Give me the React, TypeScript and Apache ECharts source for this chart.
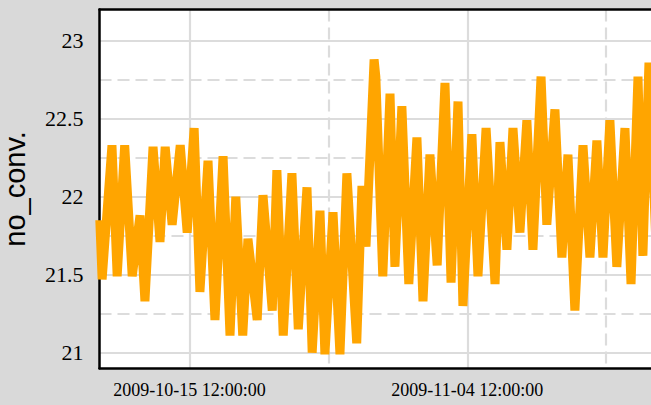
import React, { useEffect, useRef } from "react";
import * as echarts from "echarts";

const times: string[] = [
  "2009-10-09 01:00", "2009-10-09 05:00", "2009-10-09 22:00", "2009-10-10 07:00",
  "2009-10-10 20:00", "2009-10-11 09:00", "2009-10-11 22:30", "2009-10-12 07:00",
  "2009-10-12 21:00", "2009-10-13 09:00", "2009-10-13 18:00", "2009-10-14 06:00",
  "2009-10-14 20:00", "2009-10-15 08:00", "2009-10-15 20:00", "2009-10-16 06:00",
  "2009-10-16 20:00", "2009-10-17 08:00", "2009-10-17 22:00", "2009-10-18 10:00",
  "2009-10-18 20:00", "2009-10-19 08:00", "2009-10-19 17:00", "2009-10-20 09:00",
  "2009-10-20 19:00", "2009-10-21 11:00", "2009-10-21 19:00", "2009-10-22 06:00",
  "2009-10-22 21:00", "2009-10-23 08:00", "2009-10-23 23:00", "2009-10-24 08:00",
  "2009-10-24 21:30", "2009-10-25 06:00", "2009-10-25 20:00", "2009-10-26 08:00",
  "2009-10-26 20:00", "2009-10-27 13:00", "2009-10-27 22:00", "2009-10-28 05:00",
  "2009-10-28 19:00", "2009-10-28 22:00", "2009-10-29 10:00", "2009-10-29 22:30",
  "2009-10-30 07:00", "2009-10-30 19:00", "2009-10-31 07:00", "2009-10-31 21:00",
  "2009-11-01 07:30", "2009-11-01 19:30", "2009-11-02 08:00", "2009-11-02 21:30",
  "2009-11-03 08:00", "2009-11-03 20:00", "2009-11-04 04:30", "2009-11-04 20:00",
  "2009-11-05 06:30", "2009-11-05 20:30", "2009-11-06 12:00", "2009-11-06 20:30",
  "2009-11-07 08:30", "2009-11-07 19:00", "2009-11-08 07:00", "2009-11-08 19:00",
  "2009-11-09 05:30", "2009-11-09 19:30", "2009-11-10 05:30", "2009-11-10 19:30",
  "2009-11-11 07:30", "2009-11-11 18:00", "2009-11-12 06:00", "2009-11-12 20:00",
  "2009-11-13 08:00", "2009-11-13 20:00", "2009-11-14 06:30", "2009-11-14 18:30",
  "2009-11-15 06:30", "2009-11-15 20:30", "2009-11-16 07:00", "2009-11-16 19:00",
  "2009-11-17 03:30", "2009-11-17 14:00", "2009-11-18 02:00",
];

const values: number[] = [
  21.85, 21.47, 22.33, 21.49,
  22.33, 21.49, 21.88, 21.33,
  22.32, 21.71, 22.32, 21.82,
  22.33, 21.77, 22.44, 21.39,
  22.23, 21.21, 22.26, 21.11,
  22.0, 21.11, 21.73, 21.21,
  22.01, 21.27, 22.17, 21.11,
  22.15, 21.15, 22.06, 21.0,
  21.91, 20.99, 21.9, 20.99,
  22.15, 21.06, 22.07, 21.68,
  22.88, 22.77, 21.49, 22.66,
  21.55, 22.58, 21.44, 22.38,
  21.33, 22.27, 21.56, 22.73,
  21.45, 22.61, 21.3, 22.4,
  21.49, 22.44, 21.44, 22.35,
  21.66, 22.44, 21.77, 22.49,
  21.66, 22.77, 21.82, 22.56,
  21.61, 22.27, 21.27, 22.33,
  21.61, 22.36, 21.61, 22.49,
  21.55, 22.44, 21.44, 22.77,
  21.62, 22.86, 21.7,
];

const yTickValues: number[] = [21, 21.5, 22, 22.5, 23];
const yMinorValues: number[] = [21.25, 21.75, 22.25, 22.75];
const xTickLabels: string[] = ["2009-10-15 12:00:00", "2009-11-04 12:00:00"];
const xMinorTimes: string[] = ["2009-10-25 12:00:00", "2009-11-14 12:00:00"];
const yName = "no_conv.";

function parseUTC(s: string): number {
  const [d, t] = s.split(" ");
  const [Y, M, D] = d.split("-").map(Number);
  const tp = t.split(":").map(Number);
  return Date.UTC(Y, M - 1, D, tp[0] || 0, tp[1] || 0, tp[2] || 0);
}

function pad(n: number): string {
  return n < 10 ? "0" + n : String(n);
}

function fmtUTC(v: number): string {
  const d = new Date(v);
  return (
    d.getUTCFullYear() + "-" + pad(d.getUTCMonth() + 1) + "-" + pad(d.getUTCDate()) +
    " " + pad(d.getUTCHours()) + ":" + pad(d.getUTCMinutes()) + ":" + pad(d.getUTCSeconds())
  );
}

const DAY = 86400000;

export default function App() {
  const ref = useRef<HTMLDivElement>(null);

  useEffect(() => {
    if (!ref.current) return;
    const chart = echarts.init(ref.current, null, { renderer: "svg" });
    const base = parseUTC(xTickLabels[0]);
    const xMin = base - 6.48 * DAY;
    const xMax = base + 33.23 * DAY;
    const data = times.map((t, i) => [parseUTC(t), values[i]]);
    const xTicks = xTickLabels.map(parseUTC);
    const xMinor = xMinorTimes.map(parseUTC);
    const gridColor = "#dcdcdc";
    const serif = "'Liberation Serif', 'Times New Roman', serif";

    chart.setOption({
      animation: false,
      backgroundColor: "#d9d9d9",
      grid: {
        left: 99.5,
        top: 9.5,
        right: 0,
        bottom: 36.7,
        outerBoundsMode: "none",
        containLabel: false,
        show: true,
        backgroundColor: "#ffffff",
        borderWidth: 0,
      },
      xAxis: [
        {
          type: "value",
          min: xMin,
          max: xMax,
          position: "bottom",
          axisLine: { show: true, onZero: false, lineStyle: { color: "#000", width: 2.5 } },
          axisTick: { show: false, customValues: xTicks },
          axisLabel: {
            customValues: xTicks,
            formatter: (v: number) => fmtUTC(v),
            fontFamily: serif,
            fontSize: 18,
            color: "#000",
            margin: 13,
          },
          splitLine: { show: true, lineStyle: { color: gridColor, width: 2.2, type: "solid" } },
        },
        {
          type: "value",
          min: xMin,
          max: xMax,
          position: "top",
          axisLine: { show: true, onZero: false, lineStyle: { color: "#000", width: 2.5 } },
          axisTick: { show: false, customValues: xMinor },
          axisLabel: { show: false, customValues: xMinor },
          splitLine: { show: true, lineStyle: { color: gridColor, width: 2.2, type: [12, 6] } },
        },
      ],
      yAxis: [
        {
          type: "value",
          min: 20.9,
          max: 23.2,
          position: "left",
          name: yName,
          nameLocation: "middle",
          nameGap: 70,
          nameTextStyle: { fontFamily: "'Liberation Sans', Arial, sans-serif", fontSize: 29, color: "#000" },
          axisLine: { show: true, onZero: false, lineStyle: { color: "#000", width: 2.5 } },
          axisTick: { show: false, customValues: yTickValues },
          axisLabel: {
            customValues: yTickValues,
            fontFamily: serif,
            fontSize: 22,
            color: "#000",
            margin: 16,
          },
          splitLine: { show: true, lineStyle: { color: gridColor, width: 2.2, type: "solid" } },
        },
        {
          type: "value",
          min: 20.9,
          max: 23.2,
          position: "right",
          axisLine: { show: false },
          axisTick: { show: false, customValues: yMinorValues },
          axisLabel: { show: false, customValues: yMinorValues },
          splitLine: { show: true, lineStyle: { color: gridColor, width: 2.2, type: [12, 6] } },
        },
      ],
      series: [
        {
          type: "line",
          xAxisIndex: 0,
          yAxisIndex: 0,
          data,
          showSymbol: false,
          clip: true,
          lineStyle: { color: "#FFA500", width: 9, join: "bevel", cap: "butt" },
        },
      ],
    });

    return () => chart.dispose();
  }, []);

  return (
    <div
      ref={ref}
      style={{ position: "fixed", left: 0, top: 0, width: 651, height: 405 }}
    />
  );
}
